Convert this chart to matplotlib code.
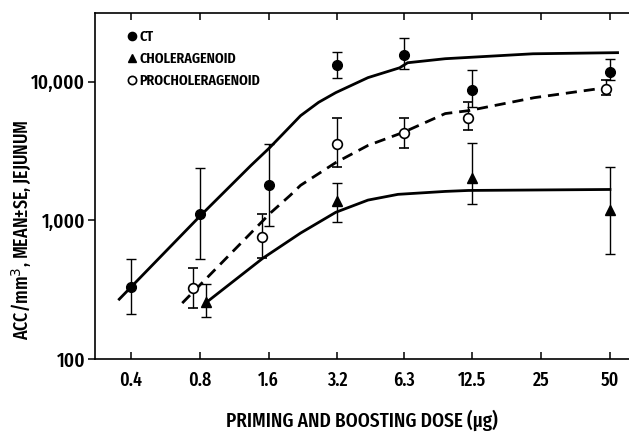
import numpy as np
import matplotlib.pyplot as plt
from matplotlib.ticker import FixedLocator, NullLocator

plt.rcParams['font.family'] = ['Fira Sans Extra Condensed', 'DejaVu Sans']

# Measured points (dose in ug, ACC per mm3)
ct_x = [0.4, 0.8, 1.6, 3.2, 6.3, 12.5, 50]
ct_y = [330, 1120, 1790, 13200, 15600, 8750, 11800]
ct_lo = [211, 524, 906, 10700, 12400, 6610, 10330]
ct_hi = [524, 2400, 3580, 16400, 20700, 12200, 14600]

chol_x = [0.85, 3.2, 12.5, 50]
chol_y = [257, 1370, 2005, 1180]
chol_lo = [200, 968, 1304, 569]
chol_hi = [346, 1875, 3640, 2445]

pro_x = [0.75, 1.5, 3.2, 6.3, 12.0, 48]
pro_y = [324, 755, 3525, 4300, 5510, 8920]
pro_lo = [233, 533, 2440, 3350, 4520, 8050]
pro_hi = [452, 1105, 5510, 5510, 7180, 10330]

# Fitted curves as drawn in the figure
ct_curve_x = [0.355, 0.8, 1.34, 1.62, 2.21, 2.65, 3.15, 4.36, 6.0, 6.5, 9.5, 23, 54]
ct_curve_y = [270, 1070, 2490, 3350, 5690, 7100, 8340, 10700, 12600, 13700, 14650, 15900, 16200]

pro_curve_x = [0.67, 1.64, 1.99, 2.21, 3.15, 4.36, 6.2, 9.5, 12.0, 23.3, 45]
pro_curve_y = [253, 1140, 1515, 1790, 2610, 3470, 4300, 5890, 6180, 7670, 8920]

chol_curve_x = [0.857, 1.51, 2.21, 3.15, 4.36, 5.9, 9.5, 12.0, 50]
chol_curve_y = [257, 533, 810, 1143, 1400, 1540, 1617, 1643, 1670]

x_ticks = [0.4, 0.8, 1.6, 3.2, 6.3, 12.5, 25, 50]
x_labels = ['0.4', '0.8', '1.6', '3.2', '6.3', '12.5', '25', '50']
y_ticks = [100, 1000, 10000]
y_labels = ['100', '1,000', '10,000']

fig = plt.figure(figsize=(6.29, 4.40), dpi=100)
ax = fig.add_axes([95 / 629, 81 / 440, 534 / 629, 346 / 440])

ax.plot(ct_curve_x, ct_curve_y, color='black', lw=2.0)
ax.plot(pro_curve_x, pro_curve_y, color='black', lw=2.0, dashes=(4, 2.5))
ax.plot(chol_curve_x, chol_curve_y, color='black', lw=2.0)

def err(y, lo, hi):
    y = np.array(y)
    return [y - np.array(lo), np.array(hi) - y]

ek = dict(ecolor='black', elinewidth=1.0, capsize=3.5, capthick=1.0, ls='none')
ax.errorbar(ct_x, ct_y, yerr=err(ct_y, ct_lo, ct_hi), marker='o', ms=7,
            mfc='black', mec='black', label='CT', **ek)
ax.errorbar(chol_x, chol_y, yerr=err(chol_y, chol_lo, chol_hi), marker='^', ms=7,
            mfc='black', mec='black', label='CHOLERAGENOID', **ek)
ax.errorbar(pro_x, pro_y, yerr=err(pro_y, pro_lo, pro_hi), marker='o', ms=7,
            mfc='white', mec='black', mew=1.2, label='PROCHOLERAGENOID', **ek)

ax.set_xscale('log', base=2)
ax.set_yscale('log')
ax.set_xlim(0.278, 60.6)
ax.set_ylim(100, 31300)

ax.xaxis.set_major_locator(FixedLocator(x_ticks))
ax.xaxis.set_minor_locator(NullLocator())
ax.set_xticklabels(x_labels, fontsize=14, fontweight='medium')
ax.yaxis.set_major_locator(FixedLocator(y_ticks))
ax.yaxis.set_minor_locator(NullLocator())
ax.set_yticklabels(y_labels, fontsize=15, fontweight='medium')

ax.tick_params(axis='x', direction='in', top=True, length=5, width=1.1, pad=8)
ax.tick_params(axis='y', direction='out', length=5, width=1.1, pad=2)
ax.spines['right'].set_visible(False)
for s in ['left', 'bottom', 'top']:
    ax.spines[s].set_linewidth(1.2)

handles, labels = ax.get_legend_handles_labels()
handles = [h[0] for h in handles]
ax.legend(handles, labels, loc='upper left', bbox_to_anchor=(0.035, 0.99),
          frameon=False, handlelength=0.6, handletextpad=0.2, labelspacing=0.5,
          prop={'size': 11, 'weight': 'semibold'}, markerscale=0.85)

ax.set_xlabel('PRIMING AND BOOSTING DOSE (\u03bcg)', fontsize=15,
              fontweight='medium', labelpad=14)
fig.text(22 / 629, 1 - 230 / 440, 'ACC/mm$^3$, MEAN\u00b1SE, JEJUNUM', rotation=90,
         fontsize=14, fontweight='medium', ha='center', va='center')

plt.savefig('out.png', dpi=100)
